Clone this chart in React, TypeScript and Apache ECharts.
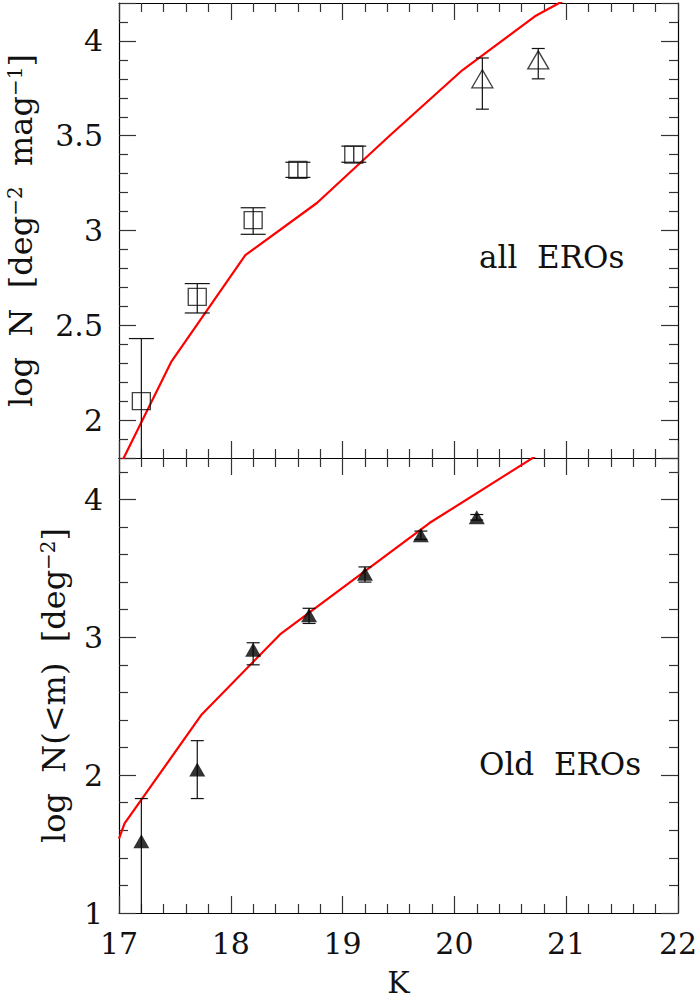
import React, { useEffect, useRef } from "react";
import * as echarts from "echarts";

// ---- Data ----
// Upper panel: all EROs, differential counts
const kAllSq = [17.2, 17.7, 18.2, 18.6, 19.1];
const logNAllSq = [2.1, 2.65, 3.055, 3.32, 3.4];
const errLoAllSq = [1.6, 2.565, 2.98, 3.28, 3.36];
const errHiAllSq = [2.43, 2.72, 3.12, 3.36, 3.445];

const kAllTri = [20.25, 20.75];
const logNAllTri = [3.8, 3.9];
const errLoAllTri = [3.64, 3.8];
const errHiAllTri = [3.91, 3.96];

const kModelAll = [17.0, 17.47, 18.13, 18.77, 19.42, 20.07, 20.72, 21.0];
const logNModelAll = [1.75, 2.31, 2.87, 3.145, 3.5, 3.845, 4.13, 4.22];

// Lower panel: old EROs, cumulative counts
const kOld = [17.2, 17.7, 18.2, 18.7, 19.2, 19.7, 20.2];
const logNOld = [1.52, 2.04, 2.91, 3.16, 3.46, 3.74, 3.87];
const errLoOld = [0.9, 1.83, 2.8, 3.1, 3.4, 3.71, 3.85];
const errHiOld = [1.83, 2.25, 2.96, 3.21, 3.51, 3.77, 3.89];

const kModelOld = [17.0, 17.05, 17.74, 18.44, 19.78, 20.72];
const logNModelOld = [1.54, 1.65, 2.44, 3.02, 3.83, 4.31];

const xTickMin = 17;
const xTickMax = 22;

const FONT = "DejaVu Serif";

function pairs(xs: number[], ys: number[]) {
  return xs.map((x, i) => [x, ys[i]]);
}
function errTriples(xs: number[], lo: number[], hi: number[]) {
  return xs.map((x, i) => [x, lo[i], hi[i]]);
}

function errorSeries(data: number[][], xi: number, yi: number, capW: number) {
  return {
    type: "custom",
    xAxisIndex: xi,
    yAxisIndex: yi,
    clip: true,
    z: 3,
    encode: { x: 0, y: [1, 2] },
    data,
    renderItem: (params: any, api: any) => {
      const x = api.value(0);
      const lo = api.value(1);
      const hi = api.value(2);
      const pLo = api.coord([x, lo]);
      const pHi = api.coord([x, hi]);
      const w = capW / 2;
      const st = { stroke: "#111", lineWidth: 1.2 };
      return {
        type: "group",
        children: [
          { type: "line", shape: { x1: pLo[0], y1: pLo[1], x2: pHi[0], y2: pHi[1] }, style: st },
          { type: "line", shape: { x1: pHi[0] - w, y1: pHi[1], x2: pHi[0] + w, y2: pHi[1] }, style: st },
          { type: "line", shape: { x1: pLo[0] - w, y1: pLo[1], x2: pLo[0] + w, y2: pLo[1] }, style: st },
        ],
      };
    },
  };
}

function xAxisDef(gridIndex: number, position: string, labels: boolean, name?: string) {
  return {
    type: "value",
    gridIndex,
    position,
    min: xTickMin,
    max: xTickMax,
    interval: 1,
    name: name || "",
    nameLocation: "middle",
    nameGap: 54,
    nameTextStyle: { fontFamily: FONT, fontSize: 30, color: "#111" },
    axisLine: { show: true, onZero: false, lineStyle: { color: "#000", width: 1.2 } },
    axisTick: { show: true, inside: true, length: 17, lineStyle: { color: "#333", width: 1.2 } },
    minorTick: { show: true, splitNumber: 5, length: 9, lineStyle: { color: "#333", width: 1.2 } },
    splitLine: { show: false },
    axisLabel: {
      show: labels,
      margin: 15,
      fontFamily: FONT,
      fontSize: 30,
      color: "#111",
      showMinLabel: true,
      showMaxLabel: true,
    },
  };
}

function yAxisDef(
  gridIndex: number,
  position: string,
  labels: boolean,
  min: number,
  max: number,
  extra: any,
  showMin: boolean,
  name?: string,
  nameGap?: number
) {
  return {
    type: "value",
    gridIndex,
    position,
    min,
    max,
    ...extra,
    name: name || "",
    nameLocation: "middle",
    nameGap: nameGap || 0,
    nameRotate: 90,
    nameTextStyle: {
      fontFamily: FONT,
      fontSize: 32,
      color: "#111",
      rich: {
        n: { fontFamily: FONT, fontSize: 32, color: "#111" },
        sup: { fontFamily: FONT, fontSize: 20, color: "#111", verticalAlign: "top" },
      },
    },
    axisLine: { show: true, onZero: false, lineStyle: { color: "#000", width: 1.2 } },
    axisTick: { show: true, inside: true, length: 17, lineStyle: { color: "#333", width: 1.2 } },
    minorTick: { show: true, splitNumber: 5, length: 9, lineStyle: { color: "#333", width: 1.2 } },
    splitLine: { show: false },
    axisLabel: {
      show: labels,
      margin: 16,
      fontFamily: FONT,
      fontSize: 30,
      color: "#111",
      showMinLabel: showMin,
      showMaxLabel: false,
    },
  };
}

export default function App() {
  const ref = useRef<HTMLDivElement>(null);

  useEffect(() => {
    if (!ref.current) return;
    const chart = echarts.init(ref.current, undefined, { renderer: "svg" });

    const option: any = {
      animation: false,
      backgroundColor: "#fff",
      grid: [
        { left: 119, top: 3, width: 559, height: 455, containLabel: false, outerBoundsMode: "none" },
        { left: 119, top: 458, width: 559, height: 455, containLabel: false, outerBoundsMode: "none" },
      ],
      xAxis: [
        xAxisDef(0, "bottom", false),
        xAxisDef(0, "top", false),
        xAxisDef(1, "bottom", true, "K"),
        xAxisDef(1, "top", false),
      ],
      yAxis: [
        yAxisDef(
          0,
          "left",
          true,
          1.8,
          4.2,
          { splitNumber: 5 },
          false,
          "{n|log  N  [deg}{sup|−2}{n|  mag}{sup|−1}{n|]}",
          82
        ),
        yAxisDef(0, "right", false, 1.8, 4.2, { splitNumber: 5 }, false),
        yAxisDef(
          1,
          "left",
          true,
          1,
          4.3,
          { interval: 1 },
          true,
          "{n|log  N(<m)  [deg}{sup|−2}{n|]}",
          49
        ),
        yAxisDef(1, "right", false, 1, 4.3, { interval: 1 }, false),
      ],
      graphic: [
        {
          type: "text",
          left: 479,
          top: 241,
          style: { text: "all  EROs", font: `31px '${FONT}'`, fill: "#111" },
        },
        {
          type: "text",
          left: 479,
          top: 748,
          style: { text: "Old  EROs", font: `31px '${FONT}'`, fill: "#111" },
        },
      ],
      series: [
        {
          type: "line",
          xAxisIndex: 0,
          yAxisIndex: 0,
          data: pairs(kModelAll, logNModelAll),
          symbol: "none",
          clip: true,
          lineStyle: { color: "#ff0000", width: 2.2 },
          z: 2,
        },
        errorSeries(errTriples(kAllSq, errLoAllSq, errHiAllSq), 0, 0, 25),
        errorSeries(errTriples(kAllTri, errLoAllTri, errHiAllTri), 0, 0, 13),
        {
          type: "scatter",
          xAxisIndex: 0,
          yAxisIndex: 0,
          data: pairs(kAllSq, logNAllSq),
          symbol: "rect",
          symbolSize: [18, 17],
          itemStyle: { color: "rgba(0,0,0,0)", borderColor: "#111", borderWidth: 1.3 },
          z: 4,
        },
        {
          type: "scatter",
          xAxisIndex: 0,
          yAxisIndex: 0,
          data: pairs(kAllTri, logNAllTri),
          symbol: "triangle",
          symbolSize: [21, 18],
          itemStyle: { color: "rgba(0,0,0,0)", borderColor: "#111", borderWidth: 1.3 },
          z: 4,
        },
        {
          type: "line",
          xAxisIndex: 2,
          yAxisIndex: 2,
          data: pairs(kModelOld, logNModelOld),
          symbol: "none",
          clip: true,
          lineStyle: { color: "#ff0000", width: 2.2 },
          z: 2,
        },
        errorSeries(errTriples(kOld, errLoOld, errHiOld), 2, 2, 13),
        {
          type: "scatter",
          xAxisIndex: 2,
          yAxisIndex: 2,
          data: pairs(kOld, logNOld),
          symbol: "triangle",
          symbolSize: [16, 14],
          itemStyle: { color: "#000" },
          z: 4,
        },
      ],
    };

    chart.setOption(option);
    return () => {
      chart.dispose();
    };
  }, []);

  return (
    <div
      ref={ref}
      style={{ position: "fixed", left: 0, top: 0, width: 699, height: 1000, background: "#fff" }}
    />
  );
}
